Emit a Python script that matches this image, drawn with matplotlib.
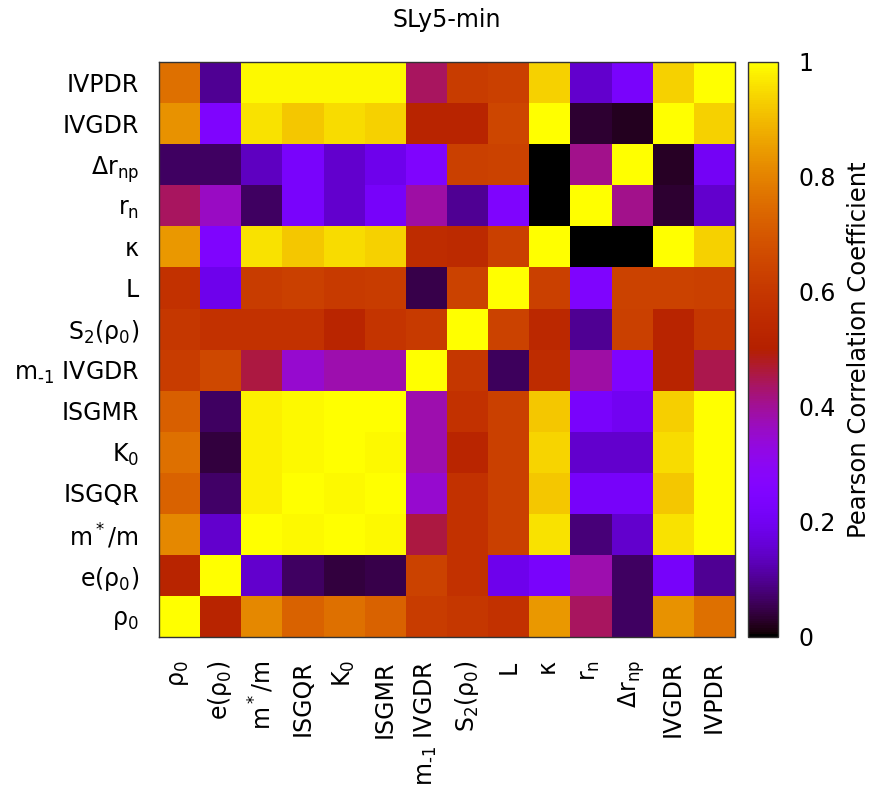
import matplotlib
matplotlib.use("Agg")
import matplotlib.pyplot as plt
import numpy as np

plt.rcParams['font.family'] = ['DejaVu Sans']
plt.rcParams['mathtext.default'] = 'regular'

labels = [r'$\rho_0$', r'$e(\rho_0)$', r'$m^*/m$', 'ISGQR', r'$K_0$', 'ISGMR',
          '$m_{\u20101}$ IVGDR', r'$S_2(\rho_0)$', 'L', r'$\kappa$', r'$r_n$',
          r'$\Delta r_{np}$', 'IVGDR', 'IVPDR']

# rows in label order (rho0 first), columns in label order
r_rho0  = [1.00, 0.52, 0.81, 0.73, 0.76, 0.73, 0.62, 0.60, 0.58, 0.84, 0.44, 0.065, 0.83, 0.76]
r_e     = [0.52, 1.00, 0.15, 0.065, 0.04, 0.05, 0.64, 0.58, 0.19, 0.23, 0.38, 0.065, 0.22, 0.10]
r_mstar = [0.81, 0.15, 1.00, 0.99, 1.00, 0.99, 0.46, 0.58, 0.63, 0.96, 0.08, 0.15, 0.96, 1.00]
r_isgqr = [0.73, 0.07, 0.98, 1.00, 0.99, 1.00, 0.35, 0.58, 0.63, 0.92, 0.22, 0.22, 0.92, 1.00]
r_k0    = [0.76, 0.04, 0.98, 0.99, 1.00, 0.99, 0.38, 0.53, 0.63, 0.94, 0.15, 0.15, 0.95, 1.00]
r_isgmr = [0.72, 0.065, 0.98, 0.99, 1.00, 1.00, 0.38, 0.58, 0.63, 0.92, 0.23, 0.20, 0.93, 1.00]
r_m1    = [0.62, 0.66, 0.46, 0.35, 0.38, 0.38, 1.00, 0.60, 0.06, 0.56, 0.39, 0.25, 0.52, 0.45]
r_s2    = [0.60, 0.58, 0.58, 0.58, 0.53, 0.59, 0.61, 1.00, 0.64, 0.54, 0.10, 0.63, 0.52, 0.60]
r_L     = [0.58, 0.19, 0.62, 0.63, 0.61, 0.62, 0.05, 0.64, 1.00, 0.63, 0.25, 0.64, 0.64, 0.63]
r_kappa = [0.84, 0.25, 0.96, 0.92, 0.95, 0.935, 0.56, 0.55, 0.63, 1.00, 0.00, 0.00, 1.00, 0.935]
r_rn    = [0.44, 0.36, 0.065, 0.23, 0.15, 0.22, 0.39, 0.10, 0.25, 0.00, 1.00, 0.41, 0.035, 0.15]
r_drnp  = [0.065, 0.065, 0.14, 0.23, 0.15, 0.19, 0.25, 0.63, 0.64, 0.00, 0.41, 1.00, 0.025, 0.21]
r_ivgdr = [0.83, 0.25, 0.96, 0.92, 0.95, 0.935, 0.52, 0.52, 0.65, 1.00, 0.035, 0.02, 1.00, 0.935]
r_ivpdr = [0.76, 0.10, 0.99, 0.99, 0.99, 0.99, 0.44, 0.62, 0.63, 0.935, 0.15, 0.23, 0.935, 1.00]

corr = np.array([r_rho0, r_e, r_mstar, r_isgqr, r_k0, r_isgmr, r_m1, r_s2,
                 r_L, r_kappa, r_rn, r_drnp, r_ivgdr, r_ivpdr])

fig = plt.figure(figsize=(8.75, 7.87), dpi=100)
W, H = 875, 787
ax = fig.add_axes([158.5 / W, 1 - 636.7 / H, 576 / W, 575 / H])
cax = fig.add_axes([748 / W, 1 - 636.7 / H, 30 / W, 575 / H])

im = ax.imshow(corr, cmap='gnuplot', vmin=0, vmax=1, origin='lower',
               aspect='auto', interpolation='nearest')
n = len(labels)
ax.set_xticks(np.arange(n))
ax.set_yticks(np.arange(n))
ax.set_xticklabels(labels, rotation=90, fontsize=17)
ax.set_yticklabels(labels, fontsize=17)
ax.tick_params(axis='y', length=0, pad=14)
ax.tick_params(axis='x', length=0, pad=17)
for s in ax.spines.values():
    s.set_linewidth(1.0)
    s.set_color('#333333')

cb = fig.colorbar(im, cax=cax, ticks=[0, 0.2, 0.4, 0.6, 0.8, 1.0])
cb.ax.set_yticklabels(['0', '0.2', '0.4', '0.6', '0.8', '1'], fontsize=17)
cb.ax.tick_params(length=0, pad=15)
cb.outline.set_linewidth(1.0)
cb.outline.set_edgecolor('#333333')
cb.set_label('Pearson Correlation Coefficient', fontsize=17.5, labelpad=8)

fig.text(447 / W, 1 - 20 / H, 'SLy5-min', ha='center', va='center', fontsize=17)

fig.savefig('out.png', dpi=100)
